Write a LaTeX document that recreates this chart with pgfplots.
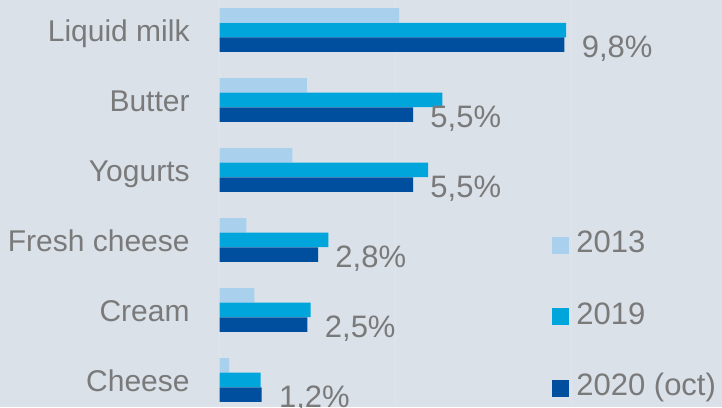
\documentclass[border=0pt]{standalone}
\usepackage{fontspec}
\setmainfont{Liberation Sans}
\usepackage{pgfplots}
\pgfplotsset{compat=1.18}
\definecolor{bg}{HTML}{DAE1E9}
\definecolor{c13}{HTML}{A9D1EE}
\definecolor{c19}{HTML}{00A5DB}
\definecolor{c20}{HTML}{004F9E}
\definecolor{txt}{HTML}{7A7A7A}
\definecolor{gridc}{HTML}{E6E3E3}

\begin{document}
\begin{tikzpicture}[font=\fontsize{15pt}{18pt}\selectfont]
\path[use as bounding box, fill=bg] (0,0) rectangle (361pt,203.5pt);
\begin{axis}[
  at={(109.75pt,0pt)}, anchor=south west,
  scale only axis, width=251.25pt, height=203.5pt,
  xmin=0, xmax=14.276, ymin=-0.386, ymax=5.4286,
  xbar, bar width=7.25pt,
  axis line style={draw=none},
  xtick={0,5,10}, xticklabels={},
  xmajorgrids, grid style={gridc, line width=0.75pt},
  major tick length=0pt,
  ytick={0,...,5},
  yticklabels={Cheese,Cream,Fresh cheese,Yogurts,Butter,Liquid milk},
  yticklabel style={anchor=base east, inner sep=0pt, xshift=-14.75pt, yshift=-5.6pt, text=txt},
  legend image code/.code={\fill[#1] (0pt,-4.25pt) rectangle (8.5pt,4.25pt);},
  legend style={at={(rel axis cs:0.6617,0.419)}, anchor=north west,
    draw=none, fill=none, inner sep=0pt, row sep=27.3pt, column sep=3.5pt,
    text=txt, font=\fontsize{15.5pt}{18pt}\selectfont,
    nodes={inner sep=0pt, text height=0.72em, text depth=0pt}},
  legend cell align=left,
]
\addplot[fill=c13, draw=none, bar shift=7.35pt]
coordinates {(0.27,0) (0.99,1) (0.76,2) (2.07,3) (2.48,4) (5.10,5)};
\addlegendentry{2013}

\addplot[fill=c19, draw=none, bar shift=0pt]
coordinates {(1.17,0) (2.59,1) (3.09,2) (5.93,3) (6.33,4) (9.85,5)};
\addlegendentry{2019}

\addplot[fill=c20, draw=none, bar shift=-7.35pt, point meta=x,
  nodes near coords={\pgfmathprintnumber[fixed,fixed zerofill,precision=1,use comma,assume math mode=true]{\pgfplotspointmeta}\%},
  nodes near coords style={anchor=base west, inner sep=0pt, xshift=8.5pt, yshift=-6.3pt, text=txt, font=\fontsize{15.5pt}{18pt}\selectfont}]
coordinates {(1.2,0) (2.5,1) (2.8,2) (5.5,3) (5.5,4) (9.8,5)};
\addlegendentry{2020 (oct)}
\end{axis}
\end{tikzpicture}
\end{document}
